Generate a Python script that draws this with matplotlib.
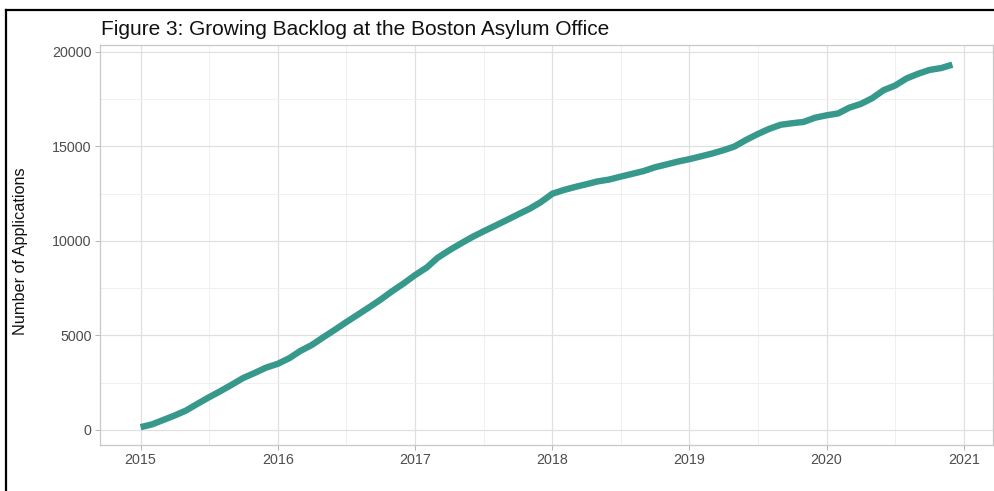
import datetime as dt
import matplotlib
matplotlib.use("Agg")
import matplotlib.pyplot as plt
import matplotlib.dates as mdates
from matplotlib.lines import Line2D

# ---- data (monthly backlog, Jan 2015 - Dec 2020) ----
months = [dt.date(2015 + i // 12, i % 12 + 1, 1) for i in range(72)]
backlog = [
    150, 300, 520, 760, 1020, 1380, 1720, 2050, 2400, 2750, 3020, 3300,
    3500, 3800, 4180, 4500, 4900, 5300, 5700, 6100, 6500, 6900, 7350, 7750,
    8200, 8600, 9100, 9500, 9850, 10200, 10500, 10800, 11100, 11400, 11700, 12050,
    12500, 12700, 12850, 13000, 13150, 13250, 13400, 13550, 13700, 13900, 14050, 14200,
    14330, 14480, 14620, 14800, 15000, 15350, 15650, 15930, 16150, 16230, 16300, 16520,
    16650, 16750, 17050, 17250, 17550, 17980, 18220, 18600, 18850, 19050, 19150, 19330,
]
year_ticks = [2015, 2016, 2017, 2018, 2019, 2020, 2021]
y_ticks = [0, 5000, 10000, 15000, 20000]
title = "Figure 3: Growing Backlog at the Boston Asylum Office"
y_label = "Number of Applications"

plt.rcParams["font.family"] = ["Liberation Sans", "DejaVu Sans"]

W, H = 995, 491
fig = plt.figure(figsize=(W / 100, H / 100), dpi=100)
ax = fig.add_axes([100 / W, 1 - 445 / H, (993 - 100) / W, (445 - 45) / H])

line_color = "#37998C"
ax.plot(months, backlog, color=line_color, lw=4.6, solid_capstyle="butt", zorder=3)

# x scale
dn = mdates.date2num(months)
span = dn[-1] - dn[0]
ax.set_xlim(dn[0] - 0.05 * span, dn[-1] + 0.05 * span)
ax.set_ylim(-794, 20370)

ax.set_xticks(mdates.date2num([dt.date(y, 1, 1) for y in year_ticks]))
ax.set_xticklabels([str(y) for y in year_ticks])
ax.set_xticks(mdates.date2num([dt.date(y, 7, 2) for y in year_ticks[:-1]]), minor=True)
ax.set_yticks(y_ticks)
ax.set_yticklabels([str(v) for v in y_ticks])
ax.set_yticks([2500, 7500, 12500, 17500], minor=True)

ax.grid(which="major", color="#E0E0E0", lw=0.9)
ax.grid(which="minor", color="#EEEEEE", lw=0.6)
ax.set_axisbelow(True)
for s in ax.spines.values():
    s.set_color("#C8C8C8")
    s.set_linewidth(0.9)

ax.tick_params(which="major", length=3.5, width=0.7, color="#B3B3B3",
               labelcolor="#4D4D4D", labelsize=10.3, pad=2.5)
ax.tick_params(which="minor", length=0)

fig.text(101 / W, 1 - 35 / H, title, fontsize=15.0, color="#111111",
         ha="left", va="baseline")
fig.text(21 / W, 1 - 251 / H, y_label, rotation=90, fontsize=11.7,
         color="#111111", ha="center", va="center")

# outer frame of the screenshot
fig.add_artist(Line2D([6.5 / W, 6.5 / W], [0, 1 - 10 / H], color="black",
                      lw=1.6, transform=fig.transFigure))
fig.add_artist(Line2D([6.5 / W, 1], [1 - 10 / H, 1 - 10 / H], color="black",
                      lw=1.6, transform=fig.transFigure))

fig.savefig("out.png", dpi=100)
